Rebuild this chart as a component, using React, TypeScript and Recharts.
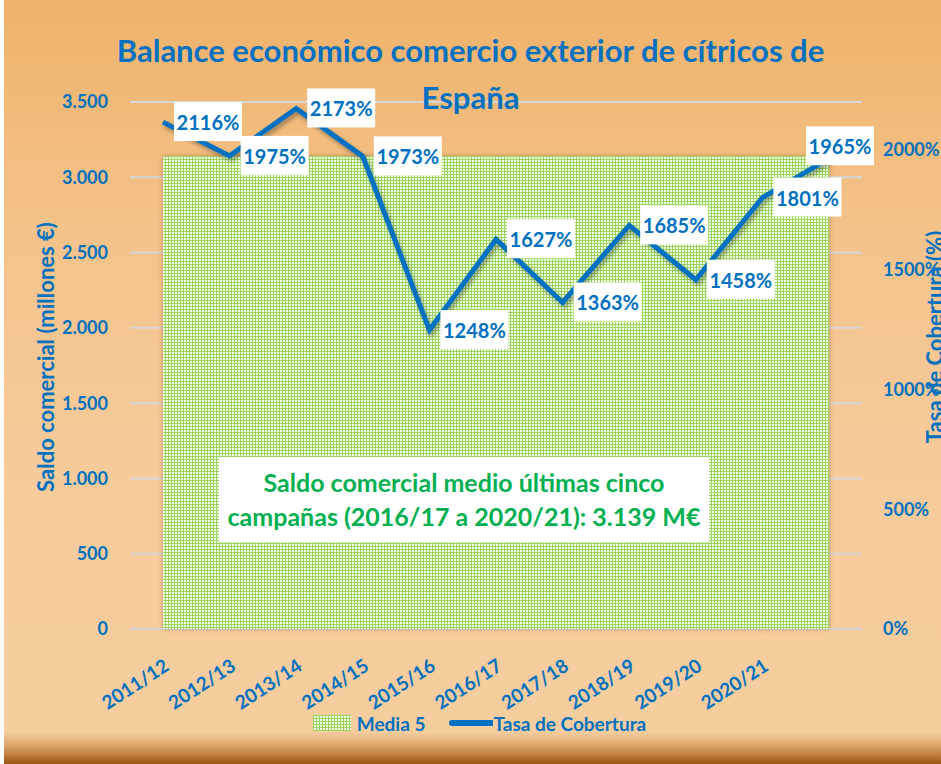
import React from "react";
import {
  ComposedChart, Area, Line, XAxis, YAxis, CartesianGrid, Legend, LabelList
} from "recharts";

const campaigns = [
  "2011/12", "2012/13", "2013/14", "2014/15", "2015/16", "2016/17",
  "2017/18", "2018/19", "2019/20", "2020/21", "2021/22",
];
// the last campaign has no label on the original axis
const shownCampaigns = [
  "2011/12", "2012/13", "2013/14", "2014/15", "2015/16",
  "2016/17", "2017/18", "2018/19", "2019/20", "2020/21",
];
const tasaCobertura = [2116, 1975, 2173, 1973, 1248, 1627, 1363, 1685, 1458, 1801, 1965];
const media5 = [3139, 3139, 3139, 3139, 3139, 3139, 3139, 3139, 3139, 3139, 3139];
const saldoTicks = [0, 500, 1000, 1500, 2000, 2500, 3000, 3500];
const tasaTicks = [0, 500, 1000, 1500, 2000];

const data = campaigns.map((c, i) => ({
  campaign: c,
  media: media5[i],
  tasa: tasaCobertura[i],
}));

const FONT = "Lato, 'Open Sans', sans-serif";
const BLUE = "#0070c0";
const GREEN_TEXT = "#00b050";

const thousands = (n: number) => String(n).replace(/\B(?=(\d{3})+(?!\d))/g, ".");

const DotPattern = ({ id }: { id: string }) => (
  <pattern id={id} width={3} height={3} patternUnits="userSpaceOnUse">
    <rect width={3} height={3} fill="#9ad65c" />
    <rect x={1} y={1} width={2} height={2} fill="#f4fbec" />
  </pattern>
);

const TasaLabel = (props: any) => {
  const { x, y, value, index } = props;
  const last = index === tasaCobertura.length - 1;
  const bx = last ? x - 23 : x + 11;
  const by = last ? y - 32 : y - 20;
  return (
    <g>
      <rect x={bx} y={by} width={68} height={39} fill="#fff" />
      <text
        x={bx + 34}
        y={by + 20}
        textAnchor="middle"
        dominantBaseline="central"
        fill={BLUE}
        fontFamily={FONT}
        fontWeight={700}
        fontSize={20}
      >
        {value}%
      </text>
    </g>
  );
};

const LeftTitle = () => {
  const cx = 45;
  const cy = 357;
  return (
    <text
      x={cx}
      y={cy}
      transform={`rotate(-90 ${cx} ${cy})`}
      textAnchor="middle"
      dominantBaseline="central"
      fill={BLUE}
      fontFamily={FONT}
      fontWeight={700}
      fontSize={22}
    >
      Saldo comercial (millones €)
    </text>
  );
};

const RightTitle = () => {
  const cx = 934;
  const cy = 337;
  return (
    <text
      x={cx}
      y={cy}
      transform={`rotate(-90 ${cx} ${cy})`}
      textAnchor="middle"
      dominantBaseline="central"
      fill={BLUE}
      fontFamily={FONT}
      fontWeight={700}
      fontSize={22}
    >
      Tasa de Cobertura (%)
    </text>
  );
};

const renderLegend = () => (
  <div
    style={{
      display: "flex",
      justifyContent: "center",
      alignItems: "center",
      height: 24,
      paddingLeft: 18,
      fontFamily: FONT,
      fontWeight: 700,
      fontSize: 19,
      color: BLUE,
    }}
  >
    <svg width={38} height={16} style={{ marginRight: 6 }}>
      <defs>
        <DotPattern id="dotsLegend" />
      </defs>
      <rect width={38} height={16} fill="url(#dotsLegend)" />
    </svg>
    <span>Media 5</span>
    <svg width={44} height={8} style={{ marginLeft: 24 }}>
      <line x1={3} y1={4} x2={44} y2={4} stroke={BLUE} strokeWidth={6} strokeLinecap="round" />
    </svg>
    <span>Tasa de Cobertura</span>
  </div>
);

export default function App() {
  return (
    <div
      style={{
        position: "absolute",
        left: 0,
        top: 0,
        width: 941,
        height: 764,
        overflow: "hidden",
        background:
          "linear-gradient(to bottom, #efb26a 0px, #f3c289 220px, #f6cb9c 480px, #f6cd9f 732px, #dca368 746px, #9b5513 764px)",
      }}
    >
      <div style={{ position: "absolute", left: 0, top: 0, width: 4, height: 764, background: "#fff" }} />
      <ComposedChart
        width={941}
        height={764}
        data={data}
        margin={{ top: 102, right: 0, bottom: 29, left: 0 }}
      >
        <defs>
          <DotPattern id="dotsArea" />
          <filter id="lineShadow" x="-10%" y="-10%" width="120%" height="130%">
            <feDropShadow dx={2} dy={3} stdDeviation={2} floodColor="#000" floodOpacity={0.35} />
          </filter>
          <filter id="areaShadow" x="-5%" y="-5%" width="110%" height="110%">
            <feDropShadow dx={0} dy={0} stdDeviation={2} floodColor="#7a4a1a" floodOpacity={0.5} />
          </filter>
        </defs>
        <CartesianGrid vertical={false} stroke="#d6d6d6" strokeWidth={2} yAxisId="left" />
        <XAxis
          dataKey="campaign"
          ticks={shownCampaigns}
          interval={0}
          padding={{ left: 33, right: 33 }}
          axisLine={false}
          tickLine={false}
          tickSize={0}
          tickMargin={29}
          height={82}
          tick={{ angle: -33, textAnchor: "end", verticalAnchor: "middle", fill: BLUE, fontFamily: FONT, fontWeight: 700, fontSize: 19 }}
        />
        <YAxis
          yAxisId="left"
          width={130}
          domain={[0, 3500]}
          ticks={saldoTicks}
          tickFormatter={thousands}
          axisLine={false}
          tickLine={false}
          tickSize={0}
          tickMargin={22}
          tick={{ fill: BLUE, fontFamily: FONT, fontWeight: 700, fontSize: 18 }}
          label={<LeftTitle />}
        />
        <YAxis
          yAxisId="right"
          orientation="right"
          width={79}
          domain={[0, 2200]}
          ticks={tasaTicks}
          tickFormatter={(v: number) => `${v}%`}
          axisLine={false}
          tickLine={false}
          tickSize={0}
          tickMargin={21}
          tick={{ fill: BLUE, fontFamily: FONT, fontWeight: 700, fontSize: 18 }}
          label={<RightTitle />}
        />
        <Area
          yAxisId="left"
          type="linear"
          dataKey="media"
          name="Media 5"
          stroke="none"
          fill="url(#dotsArea)"
          fillOpacity={1}
          filter="url(#areaShadow)"
          isAnimationActive={false}
        />
        <Line
          yAxisId="right"
          type="linear"
          dataKey="tasa"
          name="Tasa de Cobertura"
          stroke={BLUE}
          strokeWidth={5}
          dot={false}
          activeDot={false}
          filter="url(#lineShadow)"
          isAnimationActive={false}
        >
          <LabelList dataKey="tasa" content={<TasaLabel />} />
        </Line>
        <Legend verticalAlign="bottom" content={renderLegend} />
      </ComposedChart>
      <div
        style={{
          position: "absolute",
          left: 0,
          top: 27,
          width: 941,
          textAlign: "center",
          fontFamily: FONT,
          fontWeight: 700,
          fontSize: 31,
          lineHeight: "47px",
          color: BLUE,
          pointerEvents: "none",
        }}
      >
        Balance económico comercio exterior de cítricos de
        <br />
        España
      </div>
      <div
        style={{
          position: "absolute",
          left: 219,
          top: 457,
          width: 490,
          height: 85,
          background: "#fff",
          color: GREEN_TEXT,
          fontFamily: FONT,
          fontWeight: 700,
          fontSize: 25,
          lineHeight: "34px",
          textAlign: "center",
          paddingTop: 8,
          boxSizing: "border-box",
        }}
      >
        Saldo comercial medio últimas cinco
        <br />
        campañas (2016/17 a 2020/21): 3.139 M€
      </div>
    </div>
  );
}
